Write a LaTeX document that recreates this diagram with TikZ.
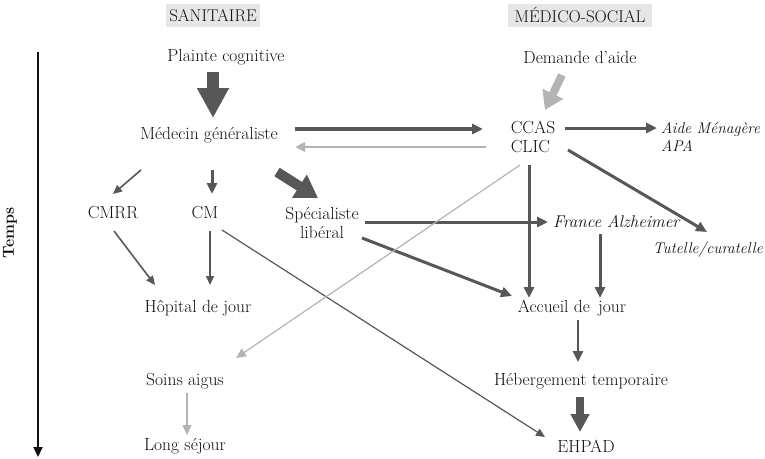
\documentclass[tikz,border=0pt]{standalone}
\usetikzlibrary{arrows.meta,calc}
\definecolor{dk}{HTML}{575757}
\definecolor{lt}{HTML}{B3B3B3}
\definecolor{hdr}{HTML}{E6E6E6}
\definecolor{txt}{HTML}{111111}
\tikzset{
  lbl/.style={font=\fontsize{17.5}{19}\selectfont, inner sep=0pt, align=center, text=txt},
  ilbl/.style={lbl, font=\fontsize{17}{19}\selectfont\itshape, align=left},
  silbl/.style={lbl, font=\fontsize{15.5}{18.5}\selectfont\itshape, align=left},
  hdrbox/.style={fill=hdr, inner sep=0pt, minimum height=23pt, font=\fontsize{17}{19}\selectfont, text=txt},
  arr/.style={draw=dk, line width=#1, -{Triangle[length=11pt,width=10pt]}},
  thinarr/.style={draw=dk, line width=#1, -{Triangle[length=9pt,width=8pt]}},
  larr/.style={draw=lt, line width=#1, -{Triangle[length=10pt,width=9pt]}},
  fat/.style n args={4}{draw=#1, line width=#2, -{Triangle[length=#3,width=#4]}},
}
\begin{document}
\begin{tikzpicture}[x=1pt,y=-1pt]
\useasboundingbox (0,0) rectangle (765,458);
% headers
\node[hdrbox, minimum width=94pt] (san) at (213,15.5) {SANITAIRE};
\node[hdrbox, minimum width=144pt] (ms) at (580,15.5) {MÉDICO-SOCIAL};
% nodes
\node[lbl] (plainte) at (226,57) {Plainte cognitive};
\node[lbl] (med) at (209,135) {Médecin généraliste};
\node[lbl] (demande) at (580,57) {Demande d’aide};
\node[lbl, align=left] (ccas) at (533,137) {CCAS\\CLIC};
\node[silbl, anchor=west] (aide) at (661,137) {Aide Ménagère\\APA};
\node[lbl] (cmrr) at (113,213) {CMRR};
\node[lbl] (cm) at (205,213) {CM};
\node[lbl] (spec) at (322,223) {Spécialiste\\libéral};
\node[ilbl, anchor=west] (france) at (553,222) {France Alzheimer};
\node[silbl, anchor=east] (tutelle) at (763,250) {Tutelle/curatelle};
\node[lbl] (hop) at (198,308) {Hôpital de jour};
\node[lbl] (accueil) at (572,308) {Accueil de\, jour};
\node[lbl] (soins) at (185,381) {Soins aigus};
\node[lbl] (heberg) at (581,381) {Hébergement temporaire};
\node[lbl] (long) at (185,446) {Long séjour};
\node[lbl] (ehpad) at (586,446) {EHPAD};
% time axis
\coordinate (t1) at (38,52);
\coordinate (t2) at (38,457);
\draw[line width=2pt, draw=txt, -{Triangle[length=10pt,width=9pt]}] (t1) -- (t2);
\node[lbl, rotate=90, font=\fontsize{16}{18}\selectfont\bfseries] (temps) at (10,233) {Temps};
% fat arrows
\draw[fat={dk}{12pt}{30pt}{30pt}] ([shift={(-13,15)}]plainte.center) -- ([shift={(4,-17)}]med.center);
\draw[fat={lt}{8pt}{18pt}{22pt}] ([shift={(-18,18)}]demande.center) -- ([shift={(12,-27)}]ccas.center);
\draw[fat={dk}{10pt}{22pt}{26pt}] ([shift={(68,37)}]med.center) -- ([shift={(-4,-25)}]spec.center);
\draw[fat={dk}{8pt}{18pt}{18pt}] ([shift={(-1,16)}]heberg.center) -- ([shift={(-6,-14)}]ehpad.center);
% medium arrows
\draw[arr=4pt] ([shift={(86,-6)}]med.center) -- ([shift={(-50,-8)}]ccas.center);
\draw[larr=2.5pt] ([shift={(-47,10)}]ccas.center) -- ([shift={(86,12)}]med.center);
\draw[arr=3pt] ([shift={(32,-9)}]ccas.center) -- ([shift={(-4,-9)}]aide.west);
\draw[arr=3pt] ([shift={(35,13)}]ccas.center) -- ([shift={(-56,-18)}]tutelle.east);
\draw[arr=3pt] ([shift={(-4,28)}]ccas.center) -- ([shift={(-43,-10)}]accueil.center);
\draw[arr=3pt] ([shift={(43,-1)}]spec.center) -- ([shift={(-5,0)}]france.west);
\draw[arr=3pt] ([shift={(47,12)}]france.west) -- ([shift={(28,-10)}]accueil.center);
\draw[arr=3pt] ([shift={(40,15)}]spec.center) -- ([shift={(-60,-12)}]accueil.center);
\draw[arr=3pt] ([shift={(3,35)}]med.center) -- ([shift={(7,-19)}]cm.center);
\draw[arr=2.5pt] ([shift={(6,12)}]accueil.center) -- ([shift={(-3,-19)}]heberg.center);
% thin arrows
\draw[thinarr=1.6pt] ([shift={(-68,35)}]med.center) -- ([shift={(0,-19)}]cmrr.center);
\draw[thinarr=1.6pt] ([shift={(1,18)}]cmrr.center) -- ([shift={(-43,-23)}]hop.center);
\draw[thinarr=1.6pt] ([shift={(5,18)}]cm.center) -- ([shift={(12,-23)}]hop.center);
\draw[thinarr=1.2pt] ([shift={(17,17)}]cm.center) -- ([shift={(-41,-9)}]ehpad.center);
\draw[larr=1.2pt] ([shift={(-13,28)}]ccas.center) -- ([shift={(51,-23)}]soins.center);
\draw[larr=1.6pt] ([shift={(2,12)}]soins.center) -- ([shift={(2,-11)}]long.center);
\end{tikzpicture}
\end{document}
